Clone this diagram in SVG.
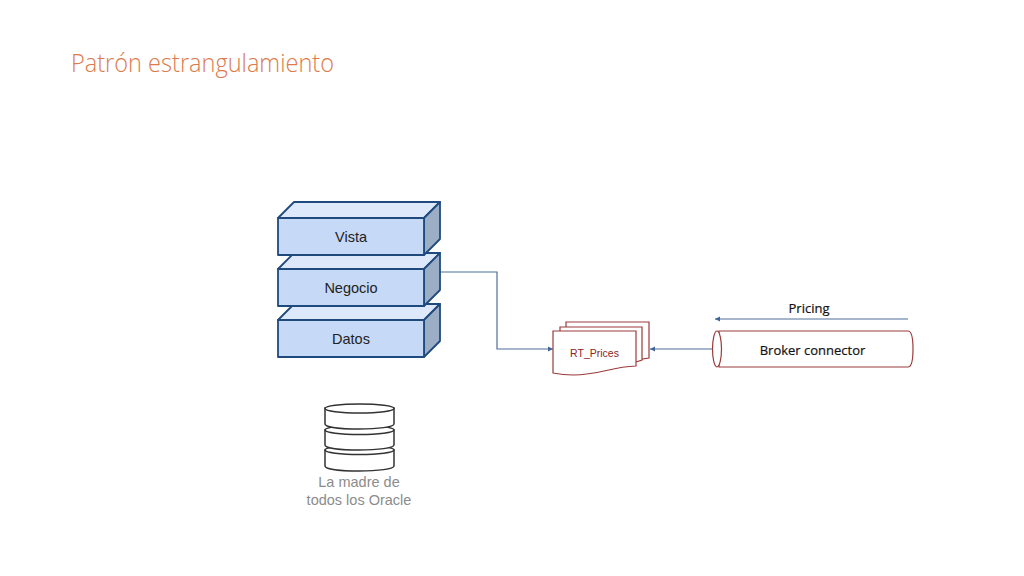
<svg xmlns="http://www.w3.org/2000/svg" width="1024" height="576" viewBox="0 0 1024 576">
<style>
.f{fill:#c6d9f7;stroke:#1f4a7d;stroke-width:1.8;stroke-linejoin:round}
.t{fill:#dde8fa;stroke:#1f4a7d;stroke-width:1.8;stroke-linejoin:round}
.s{fill:#9caec6;stroke:#1f4a7d;stroke-width:1.8;stroke-linejoin:round}
.l{font-family:"Liberation Sans",Arial,sans-serif;font-size:14.5px;fill:#222;text-anchor:middle}
.g{font-family:"Liberation Sans",Arial,sans-serif;font-size:14.5px;fill:#8c8c8c;text-anchor:middle}
.c{font-family:"Open Sans",sans-serif;font-size:13px;fill:#111;stroke:#111;stroke-width:.2;text-anchor:middle}
.d{fill:#fff;stroke:#9c3a3a;stroke-width:1.2}
.db{fill:#fff;stroke:#333;stroke-width:1.5}
.w{fill:none;stroke:#4d6f9c;stroke-width:1.2}
</style>
<defs><marker id="a" markerWidth="6" markerHeight="6" refX="5" refY="3" orient="auto" markerUnits="userSpaceOnUse"><path d="M0 .5L5 3L0 5.500z" fill="#3f6595"/></marker></defs>
<text id="title" x="71" y="72" font-family="'Open Sans',sans-serif" font-weight="300" font-size="26px" fill="#dc7a4c" textLength="263" lengthAdjust="spacingAndGlyphs">Patrón estrangulamiento</text>
<g id="connectors">
<path class="w" d="M440 272H497V349H553" marker-end="url(#a)"/>
<path class="w" d="M712 349H650" marker-end="url(#a)"/>
<path class="w" d="M908 319H715" marker-end="url(#a)"/>
</g>
<g id="datos"><path class="t" d="M278 320L294 304H440L424 320Z"/><path class="s" d="M424 320L440 304V341L424 357Z"/><rect class="f" x="278" y="320" width="146" height="37"/><text class="l" x="351" y="344">Datos</text></g>
<g id="negocio"><path class="t" d="M278 269L294 253H440L424 269Z"/><path class="s" d="M424 269L440 253V290L424 306Z"/><rect class="f" x="278" y="269" width="146" height="37"/><text class="l" x="351" y="293">Negocio</text></g>
<g id="vista"><path class="t" d="M278 218L294 202H440L424 218Z"/><path class="s" d="M424 218L440 202V239L424 255Z"/><rect class="f" x="278" y="218" width="146" height="37"/><text class="l" x="351" y="241.500">Vista</text></g>
<g id="rt-prices">
<path class="d" d="M566 322H649V358L636 360H566Z"/>
<path class="d" d="M560 327H642V360L636 362H560Z"/>
<path class="d" d="M553 331H636V366C610 367 600 375 573 375C563 375 558 374 553 373Z"/>
<text x="594.500" y="356.500" font-family="'Liberation Sans',Arial,sans-serif" font-size="10.500px" fill="#8a2424" text-anchor="middle">RT_Prices</text>
</g>
<g id="broker">
<path class="d" d="M719 331H908C911 331 913 336 913 349C913 362 911 367 908 367H719Z"/>
<ellipse class="d" cx="717" cy="349" rx="4.500" ry="18"/>
<text class="c" x="812.500" y="354.500">Broker connector</text>
</g>
<g id="pricing"><text class="c" x="809" y="312.500">Pricing</text></g>
<g id="oracle">
<path class="db" d="M325 450V466C325 469 340 471 359 471C378 471 394 469 394 466V450Z"/><ellipse class="db" cx="359.500" cy="450" rx="34.500" ry="4.500"/>
<path class="db" d="M325 430V445C325 448 340 450 359 450C378 450 394 448 394 445V430Z"/><ellipse class="db" cx="359.500" cy="430" rx="34.500" ry="4.500"/>
<path class="db" d="M325 408V424C325 427 340 429 359 429C378 429 394 427 394 424V408Z"/><ellipse class="db" cx="359.500" cy="408.500" rx="34.500" ry="4.500"/>
<text class="g" x="359" y="486.500">La madre de</text><text class="g" x="359" y="504.500">todos los Oracle</text>
</g>
</svg>
